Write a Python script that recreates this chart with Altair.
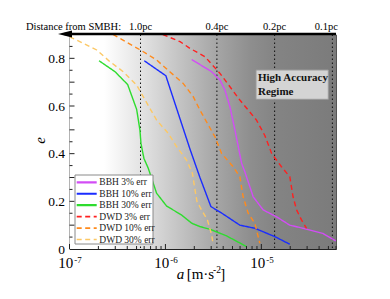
import altair as alt
import pandas as pd

W, H = 266.5, 214.5
FONT = "'Liberation Serif', 'DejaVu Serif', 'Times New Roman', serif"

series = ["BBH 3% err", "BBH 10% err", "BBH 30% err", "DWD 3% err", "DWD 10% err", "DWD 30% err"]
colors = ["#d24df5", "#1a2cff", "#2edc2e", "#ff2020", "#ff8a1c", "#fcc865"]
dashes = [[1, 0], [1, 0], [1, 0], [5, 3.5], [5, 3.5], [5, 3.5]]

bbh3_a = [1.88e-6, 3.03e-6, 3.70e-6, 4.17e-6, 4.70e-6, 5.30e-6, 6.22e-6, 6.73e-6, 8.22e-6, 1.045e-5, 1.44e-5, 1.98e-5, 2.72e-5, 4.40e-5, 5.97e-5]
bbh3_e = [0.795, 0.744, 0.709, 0.667, 0.597, 0.50, 0.36, 0.324, 0.219, 0.164, 0.135, 0.10, 0.087, 0.065, 0.034]

bbh10_a = [6.01e-7, 1.01e-6, 1.80e-6, 2.29e-6, 2.98e-6, 3.88e-6, 5.97e-6, 8.55e-6, 1.38e-5, 1.98e-5]
bbh10_e = [0.79, 0.727, 0.42, 0.30, 0.178, 0.15, 0.10, 0.087, 0.052, 0.02]

bbh30_a = [2.03e-7, 2.98e-7, 4.04e-7, 5.01e-7, 5.42e-7, 5.56e-7, 5.97e-7, 6.62e-7, 8.09e-7, 1.03e-6, 1.47e-6, 1.88e-6, 2.29e-6, 2.91e-6, 4.34e-6, 7.02e-6]
bbh30_e = [0.79, 0.744, 0.69, 0.586, 0.50, 0.443, 0.38, 0.339, 0.234, 0.18, 0.143, 0.108, 0.094, 0.083, 0.055, 0.01]

dwd3_a = [9.4e-7, 1.42e-6, 1.80e-6, 2.58e-6, 3.70e-6, 5.97e-6, 8.9e-6, 1.09e-5, 1.28e-5, 1.62e-5, 1.98e-5, 2.14e-5, 2.33e-5, 2.62e-5, 2.96e-5]
dwd3_e = [0.90, 0.87, 0.842, 0.807, 0.737, 0.625, 0.541, 0.475, 0.401, 0.345, 0.303, 0.219, 0.164, 0.122, 0.087]

dwd10_a = [2.84e-7, 5.65e-7, 8.09e-7, 1.11e-6, 1.53e-6, 1.95e-6, 2.29e-6, 3.28e-6, 3.85e-6, 5.08e-6, 5.97e-6, 6.46e-6, 7.29e-6, 8.55e-6, 9.26e-6, 9.64e-6]
dwd10_e = [0.90, 0.832, 0.793, 0.744, 0.695, 0.639, 0.583, 0.471, 0.401, 0.345, 0.303, 0.219, 0.15, 0.108, 0.052, 0.024]

dwd30_a = [1.0e-7, 1.19e-7, 1.92e-7, 2.64e-7, 3.63e-7, 5.01e-7, 5.87e-7, 8.09e-7, 1.07e-6, 1.31e-6, 1.66e-6, 1.91e-6, 2.03e-6, 2.13e-6, 2.38e-6, 2.74e-6, 3.03e-6, 3.13e-6]
dwd30_e = [0.89, 0.877, 0.835, 0.786, 0.744, 0.688, 0.639, 0.541, 0.485, 0.429, 0.373, 0.318, 0.25, 0.20, 0.164, 0.122, 0.06, 0.024]

pc_labels = ["1.0pc", "0.4pc", "0.2pc", "0.1pc"]
pc_a = [5.5e-7, 3.44e-6, 1.375e-5, 5.5e-5]

x_major = [1e-7, 1e-6, 1e-5]
x_exp = ["-7", "-6", "-5"]
x_minor = [m * 10 ** k for k in (-7, -6) for m in range(2, 10)] + [2e-5, 3e-5, 4e-5, 5e-5, 6e-5]
y_major = [0.1, 0.2, 0.3, 0.4, 0.5, 0.6, 0.7, 0.8]
y_minor = [0.05, 0.15, 0.25, 0.35, 0.45, 0.55, 0.65, 0.75, 0.85]

rows = []
for s, aa, ee in zip(series, [bbh3_a, bbh10_a, bbh30_a, dwd3_a, dwd10_a, dwd30_a],
                     [bbh3_e, bbh10_e, bbh30_e, dwd3_e, dwd10_e, dwd30_e]):
    for i, (x, y) in enumerate(zip(aa, ee)):
        rows.append({"series": s, "a": x, "e": y, "i": i})
df = pd.DataFrame(rows)

xscale = alt.Scale(type="log", domain=[1e-7, 6e-5])
yscale = alt.Scale(domain=[0, 0.9])
cscale = alt.Scale(domain=series, range=colors)
dscale = alt.Scale(domain=series, range=dashes)

one = pd.DataFrame({"k": [0]})

bg = alt.Chart(one).mark_rect(
    color=alt.Gradient(
        gradient="linear", x1=0, x2=1, y1=0, y2=0,
        stops=[
            alt.GradientStop(offset=0, color="#ffffff"),
            alt.GradientStop(offset=0.13, color="#ffffff"),
            alt.GradientStop(offset=0.27, color="#e3e3e3"),
            alt.GradientStop(offset=0.41, color="#c4c4c4"),
            alt.GradientStop(offset=0.55, color="#a6a6a6"),
            alt.GradientStop(offset=0.68, color="#8e8e8e"),
            alt.GradientStop(offset=0.77, color="#848484"),
            alt.GradientStop(offset=1, color="#7b7b7b"),
        ],
    )
).encode(x=alt.value(0), x2=alt.value(W), y=alt.value(0), y2=alt.value(H))

pc_df = pd.DataFrame({"a": pc_a, "lab": pc_labels})
dotted = alt.Chart(pc_df).mark_rule(color="#111", strokeWidth=1, strokeDash=[1.5, 2.5]).encode(
    x=alt.X("a:Q", scale=xscale), y=alt.value(0), y2=alt.value(H))

lines = alt.Chart(df).mark_line(clip=True, strokeWidth=1.4).encode(
    x=alt.X("a:Q", scale=xscale,
            axis=alt.Axis(labels=False, ticks=False, title=None, grid=False, domainColor="#222")),
    y=alt.Y("e:Q", scale=yscale,
            axis=alt.Axis(values=[0] + y_major, ticks=False, grid=False, title=None,
                          labelExpr="datum.value == 0 ? '0' : format(datum.value, '.1f')",
                          labelFont=FONT, labelFontSize=13.5, labelColor="#000",
                          labelPadding=5, domainColor="#222")),
    color=alt.Color("series:N", scale=cscale, legend=None),
    strokeDash=alt.StrokeDash("series:N", scale=dscale, legend=None),
    order="i:Q",
)

# inward ticks
xmaj = alt.Chart(pd.DataFrame({"a": x_major})).mark_rule(color="#222").encode(
    x=alt.X("a:Q", scale=xscale), y=alt.value(H), y2=alt.value(H - 5))
xmin = alt.Chart(pd.DataFrame({"a": x_minor})).mark_rule(color="#222").encode(
    x=alt.X("a:Q", scale=xscale), y=alt.value(H), y2=alt.value(H - 3))
ymaj = alt.Chart(pd.DataFrame({"e": y_major})).mark_rule(color="#222").encode(
    y=alt.Y("e:Q", scale=yscale), x=alt.value(0), x2=alt.value(5))
ymin = alt.Chart(pd.DataFrame({"e": y_minor})).mark_rule(color="#222").encode(
    y=alt.Y("e:Q", scale=yscale), x=alt.value(0), x2=alt.value(3))

# x tick labels 10^k
xl_df = pd.DataFrame({"a": x_major, "exp": x_exp})
xl10 = alt.Chart(xl_df).mark_text(font=FONT, fontSize=15, align="right", baseline="alphabetic", dx=3.8, color="#000").encode(
    x=alt.X("a:Q", scale=xscale), y=alt.value(H + 19), text=alt.value("10"))
xlexp = alt.Chart(xl_df).mark_text(font=FONT, fontSize=9, align="left", baseline="alphabetic", dx=4.8, color="#000").encode(
    x=alt.X("a:Q", scale=xscale), y=alt.value(H + 14), text="exp:N")

# axis titles
t_a = alt.Chart(one).mark_text(font=FONT, fontSize=15, fontStyle="italic", align="left", baseline="alphabetic", color="#000").encode(
    x=alt.value(107.2), y=alt.value(H + 29.5), text=alt.value("a"))
t_unit = alt.Chart(one).mark_text(font=FONT, fontSize=15, align="left", baseline="alphabetic", color="#000").encode(
    x=alt.value(117.2), y=alt.value(H + 29.5), text=alt.value("[m·s"))
t_uexp = alt.Chart(one).mark_text(font=FONT, fontSize=9.5, align="left", baseline="alphabetic", color="#000").encode(
    x=alt.value(143.6), y=alt.value(H + 24), text=alt.value("-2"))
t_ub = alt.Chart(one).mark_text(font=FONT, fontSize=15, align="left", baseline="alphabetic", color="#000").encode(
    x=alt.value(150.8), y=alt.value(H + 29.5), text=alt.value("]"))
t_e = alt.Chart(one).mark_text(font=FONT, fontSize=15, fontStyle="italic", angle=270, align="center", baseline="middle", color="#000").encode(
    x=alt.value(-30), y=alt.value(106), text=alt.value("e"))

# top distance axis
arrow_line = alt.Chart(one).mark_rule(color="#000", strokeWidth=2.5).encode(
    x=alt.value(-5), x2=alt.value(W), y=alt.value(-0.5))
arrow_head = alt.Chart(one).mark_point(shape="M-1,0L1,-0.5L1,0.5Z", filled=True, size=196, color="#000", opacity=1).encode(
    x=alt.value(-4.5), y=alt.value(-0.5))
dist_title = alt.Chart(one).mark_text(font=FONT, fontSize=10.5, align="left", baseline="alphabetic", color="#000").encode(
    x=alt.value(-43.5), y=alt.value(-4.5), text=alt.value("Distance from SMBH:"))
pc_text = alt.Chart(pc_df.iloc[:3]).mark_text(font=FONT, fontSize=10.5, align="center", baseline="alphabetic", color="#000").encode(
    x=alt.X("a:Q", scale=xscale), y=alt.value(-4.5), text="lab:N")
pc_text_last = alt.Chart(pc_df.iloc[3:]).mark_text(font=FONT, fontSize=10.5, align="right", baseline="alphabetic", dx=5.5, color="#000").encode(
    x=alt.X("a:Q", scale=xscale), y=alt.value(-4.5), text="lab:N")

# High accuracy box
ha_box = alt.Chart(one).mark_rect(fill="#d4d4d4", stroke="#9a9a9a", strokeWidth=1).encode(
    x=alt.value(186.5), x2=alt.value(258.8), y=alt.value(35.5), y2=alt.value(64.8))
ha_t1 = alt.Chart(one).mark_text(font=FONT, fontSize=11, fontWeight="bold", align="left", baseline="middle", color="#111").encode(
    x=alt.value(188.5), y=alt.value(43.3), text=alt.value("High Accuracy"))
ha_t2 = alt.Chart(one).mark_text(font=FONT, fontSize=11, fontWeight="bold", align="left", baseline="middle", color="#111").encode(
    x=alt.value(188.5), y=alt.value(57.8), text=alt.value("Regime"))

# legend
leg_box = alt.Chart(one).mark_rect(fill="#ffffff", stroke="#8a8a8a", strokeWidth=1).encode(
    x=alt.value(5.5), x2=alt.value(83.5), y=alt.value(140.5), y2=alt.value(209.5))
leg_layers = [leg_box]
for i, s in enumerate(series):
    yy = 147.8 + i * 11.45
    sd = pd.DataFrame({"series": [s]})
    leg_layers.append(alt.Chart(sd).mark_rule(strokeWidth=2.2 if i < 3 else 1.6).encode(
        x=alt.value(7.2), x2=alt.value(27.2), y=alt.value(yy),
        color=alt.Color("series:N", scale=cscale, legend=None),
        strokeDash=alt.StrokeDash("series:N", scale=dscale, legend=None)))
    leg_layers.append(alt.Chart(sd).mark_text(font=FONT, fontSize=9.5, align="left", baseline="middle", color="#222").encode(
        x=alt.value(29.8), y=alt.value(yy), text="series:N"))

chart = alt.layer(
    bg, dotted, lines, xmaj, xmin, ymaj, ymin, xl10, xlexp,
    t_a, t_unit, t_uexp, t_ub, t_e,
    arrow_line, arrow_head, dist_title, pc_text, pc_text_last,
    ha_box, ha_t1, ha_t2, *leg_layers
).properties(
    width=W, height=H,
    autosize=alt.AutoSizeParams(type="none"),
    padding={"left": 61.5, "top": 26.5, "right": 40, "bottom": 36},
).configure_view(stroke="#555", strokeWidth=1)

chart.save("out.html", embed_options={"renderer": "svg", "actions": False})
